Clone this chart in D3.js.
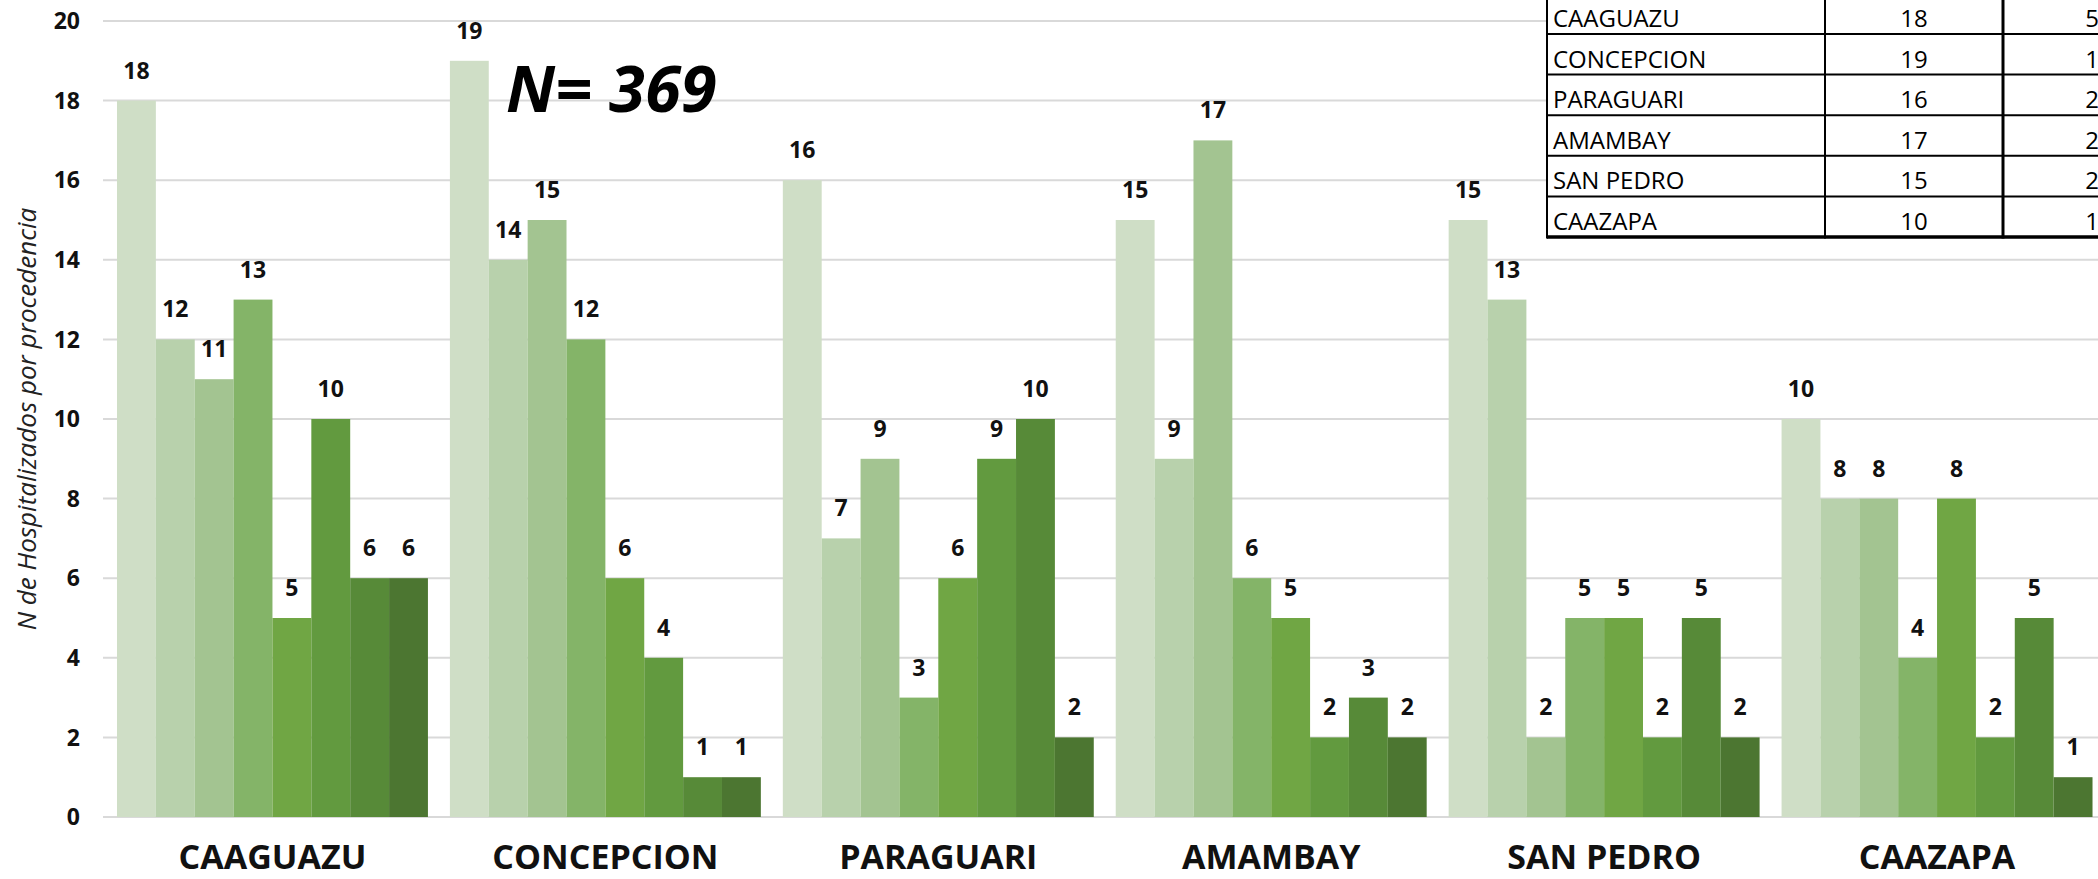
<!DOCTYPE html>
<html>
<head>
<meta charset="utf-8">
<script src="https://cdn.jsdelivr.net/npm/d3@7"></script>
<style>
  html, body { margin: 0; padding: 0; background: #fff; }
  svg { display: block; }
</style>
</head>
<body>
<svg id="chart" width="2098" height="879"></svg>
<script>
// Departments shown on the x axis
const categories = ["CAAGUAZU", "CONCEPCION", "PARAGUARI", "AMAMBAY", "SAN PEDRO", "CAAZAPA"];

// Hospitalised patients per department, one value per series (8 series each)
const caaguazu   = [18, 12, 11, 13, 5, 10, 6, 6];
const concepcion = [19, 14, 15, 12, 6, 4, 1, 1];
const paraguari  = [16, 7, 9, 3, 6, 9, 10, 2];
const amambay    = [15, 9, 17, 6, 5, 2, 3, 2];
const sanPedro   = [15, 13, 2, 5, 5, 2, 5, 2];
const caazapa    = [10, 8, 8, 4, 8, 2, 5, 1];

const yTicks = [0, 2, 4, 6, 8, 10, 12, 14, 16, 18, 20];
const yTitle = "N de Hospitalizados por procedencia";
const totalLabel = "N= 369";

const seriesColors = ["#cfdec6", "#b8d1ac", "#a3c491", "#84b468", "#70a644", "#629a3f", "#578a38", "#4c7631"];

const values = [caaguazu, concepcion, paraguari, amambay, sanPedro, caazapa];
const tableMax = values.map(v => d3.max(v));
const tableMin = values.map(v => d3.min(v));

const svg = d3.select("#chart");
const W = 2098;

const y = d3.scaleLinear().domain([0, 20]).range([817, 21]);
const x = d3.scaleBand().domain(categories).range([106, 2103.5]).paddingInner(0.066).paddingOuter(0.033);
const xs = d3.scaleBand().domain(d3.range(8)).range([0, x.bandwidth()]).padding(0);

// Horizontal gridlines
svg.append("g").selectAll("line").data(yTicks).join("line")
  .attr("x1", 103).attr("x2", W)
  .attr("y1", d => y(d)).attr("y2", d => y(d))
  .attr("stroke", "#d9d9d9").attr("stroke-width", 2);

// Y tick labels
const fontMain = "'Open Sans', 'Liberation Sans', sans-serif";
svg.append("g").selectAll("text").data(yTicks).join("text")
  .attr("x", 80).attr("y", d => y(d)).attr("dy", "0.36em")
  .attr("text-anchor", "end")
  .attr("font-family", fontMain).attr("font-weight", 700).attr("font-size", 23)
  .attr("fill", "#111")
  .text(d => d);

// Y axis title
svg.append("text")
  .attr("transform", `translate(36, ${(y(0) + y(20)) / 2}) rotate(-90)`)
  .attr("text-anchor", "middle")
  .attr("font-family", fontMain).attr("font-style", "italic").attr("font-size", 26)
  .attr("fill", "#222")
  .text(yTitle);

// Bars and value labels
const groups = svg.append("g").selectAll("g").data(categories).join("g")
  .attr("transform", d => `translate(${x(d)},0)`);

groups.each(function(cat, ci) {
  const g = d3.select(this);
  const vals = values[ci];
  g.selectAll("rect").data(vals).join("rect")
    .attr("x", (d, i) => xs(i))
    .attr("width", xs.bandwidth())
    .attr("y", d => y(d))
    .attr("height", d => y(0) - y(d))
    .attr("fill", (d, i) => seriesColors[i]);
  g.selectAll("text").data(vals).join("text")
    .attr("x", (d, i) => xs(i) + xs.bandwidth() / 2)
    .attr("y", d => y(d) - 22)
    .attr("text-anchor", "middle")
    .attr("font-family", fontMain).attr("font-weight", 700).attr("font-size", 23)
    .attr("fill", "#111")
    .text(d => d);
});

// Category labels
svg.append("g").selectAll("text").data(categories).join("text")
  .attr("x", d => x(d) + x.bandwidth() / 2)
  .attr("y", 869)
  .attr("text-anchor", "middle")
  .attr("font-family", fontMain).attr("font-weight", 700).attr("font-size", 34)
  .attr("fill", "#111")
  .text(d => d);

// Total annotation
svg.append("text")
  .attr("x", 506).attr("y", 112)
  .attr("font-family", fontMain).attr("font-weight", 700).attr("font-style", "italic")
  .attr("font-size", 65).attr("fill", "#000")
  .text(totalLabel);

// Summary table (max / min per department)
const colX = [1547, 1825, 2003, 2181];
const rowH = 40.6;
const rowTop = -6.6;
const table = svg.append("g");
table.append("rect")
  .attr("x", colX[0]).attr("y", rowTop)
  .attr("width", colX[3] - colX[0]).attr("height", rowH * categories.length)
  .attr("fill", "#fff");

const rows = categories.map((c, i) => ({ name: c, max: tableMax[i], min: tableMin[i], top: rowTop + i * rowH }));

table.selectAll("line.h").data(d3.range(1, categories.length + 1)).join("line")
  .attr("class", "h")
  .attr("x1", colX[0]).attr("x2", W)
  .attr("y1", i => rowTop + i * rowH).attr("y2", i => rowTop + i * rowH)
  .attr("stroke", "#000").attr("stroke-width", i => i === categories.length ? 3.5 : 2);

table.selectAll("line.v").data([0, 1, 2]).join("line")
  .attr("class", "v")
  .attr("x1", i => colX[i]).attr("x2", i => colX[i])
  .attr("y1", 0).attr("y2", rowTop + categories.length * rowH + 1.5)
  .attr("stroke", "#000").attr("stroke-width", i => i === 2 ? 3 : 2);

const tFont = 24;
table.selectAll("text.name").data(rows).join("text")
  .attr("class", "name")
  .attr("x", colX[0] + 6).attr("y", d => d.top + 33.5)
  .attr("font-family", fontMain).attr("font-size", tFont).attr("fill", "#000")
  .text(d => d.name);
table.selectAll("text.max").data(rows).join("text")
  .attr("class", "max")
  .attr("x", (colX[1] + colX[2]) / 2).attr("y", d => d.top + 33.5)
  .attr("text-anchor", "middle")
  .attr("font-family", fontMain).attr("font-size", tFont).attr("fill", "#000")
  .text(d => d.max);
table.selectAll("text.min").data(rows).join("text")
  .attr("class", "min")
  .attr("x", (colX[2] + colX[3]) / 2).attr("y", d => d.top + 33.5)
  .attr("text-anchor", "middle")
  .attr("font-family", fontMain).attr("font-size", tFont).attr("fill", "#000")
  .text(d => d.min);
</script>
</body>
</html>
